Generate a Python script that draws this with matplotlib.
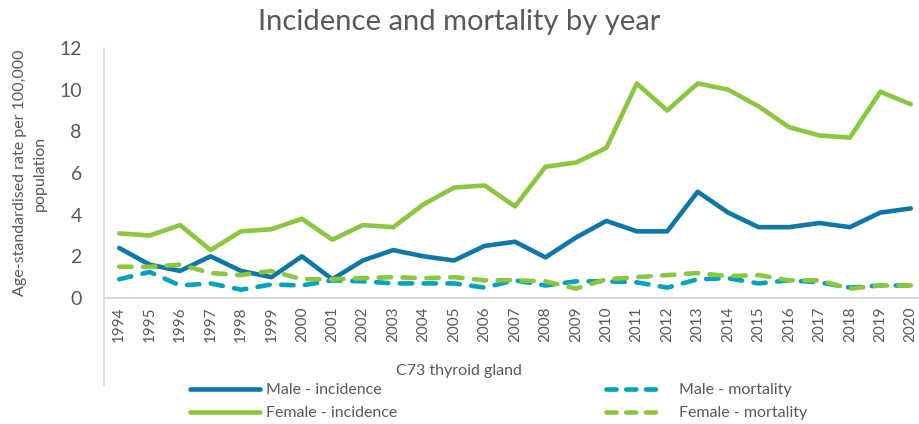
import matplotlib
matplotlib.use("Agg")
import matplotlib.pyplot as plt
from matplotlib.lines import Line2D

plt.rcParams['font.family'] = ['Lato', 'DejaVu Sans']

years = list(range(1994, 2021))
male_incidence = [2.4, 1.6, 1.3, 2.0, 1.3, 1.0, 2.0, 0.9, 1.8, 2.3, 2.0, 1.8, 2.5, 2.7,
                  1.95, 2.9, 3.7, 3.2, 3.2, 5.1, 4.1, 3.4, 3.4, 3.6, 3.4, 4.1, 4.3]
female_incidence = [3.1, 3.0, 3.5, 2.3, 3.2, 3.3, 3.8, 2.8, 3.5, 3.4, 4.5, 5.3, 5.4, 4.4,
                    6.3, 6.5, 7.2, 10.3, 9.0, 10.3, 10.0, 9.2, 8.2, 7.8, 7.7, 9.9, 9.3]
male_mortality = [0.9, 1.25, 0.6, 0.7, 0.4, 0.65, 0.6, 0.85, 0.8, 0.7, 0.7, 0.7, 0.5, 0.85,
                  0.6, 0.8, 0.8, 0.75, 0.5, 0.9, 0.95, 0.7, 0.85, 0.75, 0.5, 0.6, 0.6]
female_mortality = [1.5, 1.5, 1.6, 1.2, 1.1, 1.3, 0.9, 0.9, 0.95, 1.0, 0.95, 1.0, 0.85, 0.85,
                    0.8, 0.45, 0.9, 1.0, 1.1, 1.2, 1.05, 1.1, 0.85, 0.85, 0.45, 0.6, 0.6]
series_names = ["Male - incidence", "Male - mortality", "Female - incidence", "Female - mortality"]

c_male_inc = "#0F77A6"
c_male_mort = "#00A3B7"
c_female = "#8CC63F"
grey = "#595959"

fig = plt.figure(figsize=(9.19, 4.24), dpi=100)
ax = fig.add_axes([104/919, 1-298/424, 1-104/919, 250/424])

lw = 3.3
dash = (2.7, 2.5)
ax.plot(years, male_incidence, color=c_male_inc, lw=lw, solid_capstyle='round', solid_joinstyle='round')
ax.plot(years, female_incidence, color=c_female, lw=lw, solid_capstyle='round', solid_joinstyle='round')
ax.plot(years, male_mortality, color=c_male_mort, lw=lw, dashes=dash, dash_capstyle='round', dash_joinstyle='round')
ax.plot(years, female_mortality, color=c_female, lw=lw, dashes=dash, dash_capstyle='round', dash_joinstyle='round')

ax.set_xlim(1993.5, 2020.27)
ax.set_ylim(0, 12)
ax.set_yticks(range(0, 13, 2))
ax.set_xticks(years)
ax.set_xticklabels([str(y) for y in years], rotation=90, fontsize=11, color=grey)
ax.tick_params(axis='x', length=0, pad=6)
ax.tick_params(axis='y', length=0, pad=16, labelsize=14, labelcolor=grey)
for s in ['top', 'right']:
    ax.spines[s].set_visible(False)
ax.spines['left'].set_color('#D9D9D9')
ax.spines['left'].set_linewidth(1.2)
ax.spines['bottom'].set_color('#D9D9D9')
ax.spines['bottom'].set_linewidth(1.5)

# extended category axis line
fig.add_artist(Line2D([104/919, 104/919], [1-298/424, 1-385/424], color='#D9D9D9', lw=1.2, transform=fig.transFigure))

fig.text(0.5, 1-22/424, "Incidence and mortality by year", ha='center', va='center', fontsize=21, color=grey)
fig.text(459/919, 1-371/424, "C73 thyroid gland", ha='center', va='center', fontsize=11.5, color=grey)
fig.text(30/919, 1-173/424, "Age-standardised rate per 100,000\npopulation", rotation=90,
         ha='center', va='center', fontsize=11.5, color=grey, linespacing=1.6)

leg_dash = (2.2, 2.1)
h1 = [Line2D([], [], color=c_male_inc, lw=lw, solid_capstyle='round'),
      Line2D([], [], color=c_female, lw=lw, solid_capstyle='round')]
h2 = [Line2D([], [], color=c_male_mort, lw=lw, dashes=leg_dash, dash_capstyle='round'),
      Line2D([], [], color=c_female, lw=lw, dashes=leg_dash, dash_capstyle='round')]
leg1 = fig.legend(h1, [series_names[0], series_names[2]], loc='upper left',
                  bbox_to_anchor=(190/919, 1-383/424), frameon=False, fontsize=11.5,
                  handlelength=4.4, handletextpad=0.35, labelspacing=0.55, borderpad=0, borderaxespad=0,
                  labelcolor=grey)
leg2 = fig.legend(h2, [series_names[1], series_names[3]], loc='upper left',
                  bbox_to_anchor=(606/919, 1-383/424), frameon=False, fontsize=11.5,
                  handlelength=3.7, handletextpad=0.85, labelspacing=0.55, borderpad=0, borderaxespad=0,
                  labelcolor=grey)

fig.savefig("out.png", dpi=100)
